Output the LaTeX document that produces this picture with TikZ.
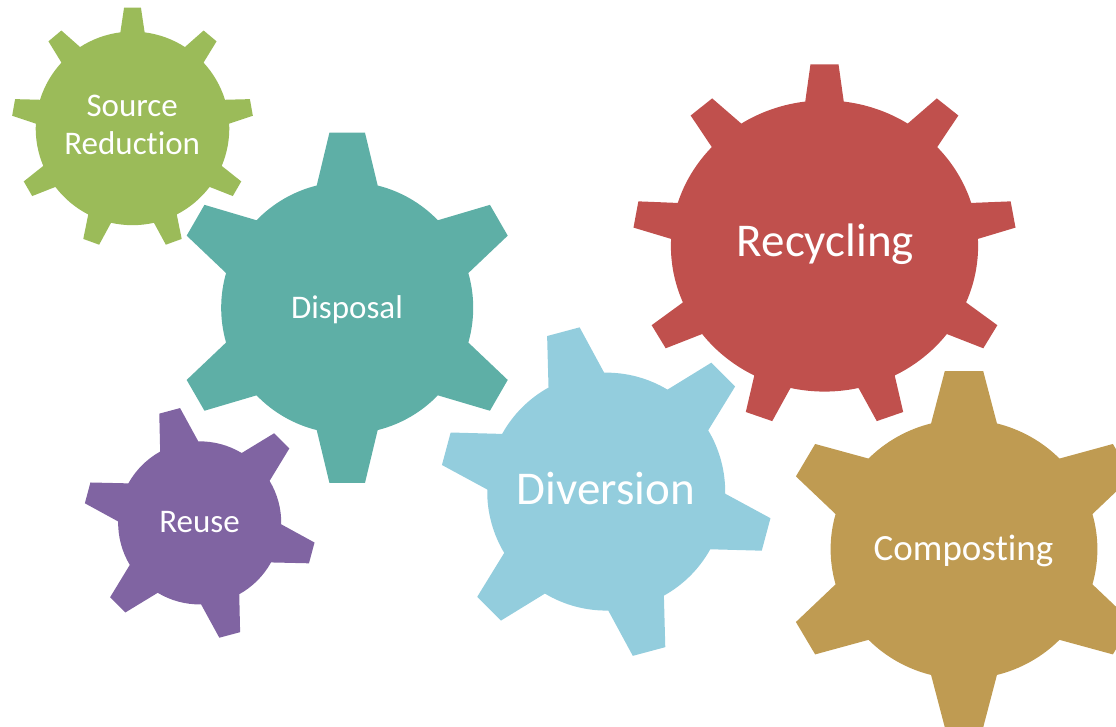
\documentclass[tikz,border=0pt]{standalone}
\usepackage{fontspec}
\setmainfont{Carlito}[Ligatures={NoCommon,NoRare}]
\usepackage{xcolor}
\usepackage{tikz}
\usetikzlibrary{calc}

\definecolor{srcgreen}{HTML}{9BBB59}
\definecolor{disteal}{HTML}{5EAFA6}
\definecolor{reupurple}{HTML}{8064A2}
\definecolor{divblue}{HTML}{93CDDD}
\definecolor{recred}{HTML}{C0504D}
\definecolor{comgold}{HTML}{BF9B52}

\tikzset{
  gearlabel/.style={text=white, align=center, anchor=base, inner sep=0pt},
  smalltext/.style={font=\fontsize{33}{37.6}\selectfont},
  bigtext/.style={font=\fontsize{47}{52}\selectfont}
}

% #1 fill, #2 centre, #3/#4 radii, #5 root ratio, #6 teeth, #7 first tooth, #8 tip, #9 root
\newcommand{\cogwheel}[9]{%
  \begin{scope}[shift={(#2)}, x=#3pt, y=#4pt]
    \pgfmathsetmacro{\pitch}{360/#6}
    \fill[#1] ({#7-#9}:#5) \foreach \k in {1,...,#6}{
      -- ({#7+(\k-1)*\pitch-#8}:1) -- ({#7+(\k-1)*\pitch+#8}:1)
      -- ({#7+(\k-1)*\pitch+#9}:#5)
      arc[start angle={#7+(\k-1)*\pitch+#9}, end angle={#7+\k*\pitch-#9}, radius=#5]
    } -- cycle;
  \end{scope}}

\begin{document}
\begin{tikzpicture}[x=1pt, y=1pt]
        \useasboundingbox (0,0) rectangle (1116,726);
        \clip (0,0) rectangle (1116,726);
        \cogwheel{srcgreen}{132.5,597.6}{121}{121}{0.80}{9}{90}{4}{7.2}
        \cogwheel{disteal}{347.2,418.2}{176}{176}{0.716}{6}{90}{5.8}{14}
        \cogwheel{reupurple}{199.7,203.1}{116.5}{116.5}{0.70}{6}{45}{5.3}{14}
        \cogwheel{divblue}{606.2,234.4}{166.4}{166.4}{0.715}{6}{45}{5.8}{14}
        \cogwheel{recred}{824.5,480}{192}{182}{0.80}{9}{90}{4.2}{7.2}
        \cogwheel{comgold}{964,176.8}{184}{179}{0.725}{6}{90}{6}{14.3}
        \node[gearlabel, smalltext] (src) at (132.2,571.7) {Source\\Reduction};
        \node[gearlabel, smalltext] (dis) at (347,407.7) {Disposal};
        \node[gearlabel, smalltext] (reu) at (199.5,193.3) {Reuse};
        \node[gearlabel, bigtext] (div) at (606,221) {Diversion};
        \node[gearlabel, bigtext] (rec) at (825.4,469.3) {Recycling};
        \node[gearlabel, font=\fontsize{37}{40}\selectfont] (com) at (963.5,166) {Composting};
    \end{tikzpicture}
\end{document}
